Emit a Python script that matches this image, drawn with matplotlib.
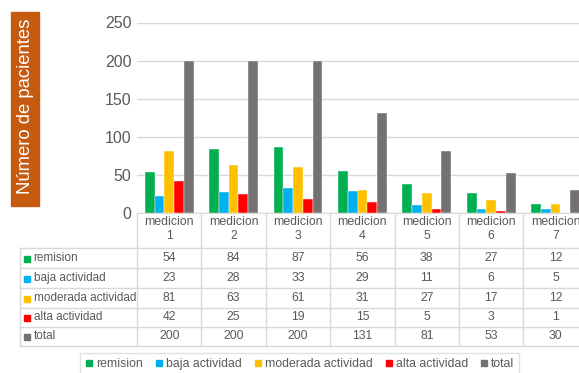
import numpy as np
import matplotlib.pyplot as plt
from matplotlib.patches import Rectangle
from matplotlib.lines import Line2D

categorias = [f"medicion\n{i}" for i in range(1, 8)]
series = ["remision", "baja actividad", "moderada actividad", "alta actividad", "total"]
remision = [54, 84, 87, 56, 38, 27, 12]
baja = [23, 28, 33, 29, 11, 6, 5]
moderada = [81, 63, 61, 31, 27, 17, 12]
alta = [42, 25, 19, 15, 5, 3, 1]
total = [200, 200, 200, 131, 81, 53, 30]
valores = [remision, baja, moderada, alta, total]
colores = ["#00B050", "#00B0F0", "#FFC000", "#FF0000", "#767171"]

plt.rcParams['font.family'] = ['Liberation Sans', 'DejaVu Sans']

W, H = 579, 373
def fx(px):
    return px / W
def fy(py):
    return 1 - py / H

fig = plt.figure(figsize=(W / 100, H / 100), dpi=100)

cat_w = 64.4  # px per category
x0 = 137
ax = fig.add_axes([fx(x0), fy(213.3), 7 * cat_w / W, (213.3 - 22.5) / H])

x = np.arange(len(categorias))
bw = 0.152
for i, (vals, c) in enumerate(zip(valores, colores)):
    ax.bar(x + (i - 2) * bw, vals, width=bw, color=c, edgecolor='white',
           linewidth=0.3, zorder=3)

ax.set_xlim(-0.5, 6.5)
ax.set_ylim(0, 250)
ax.set_yticks(range(0, 251, 50))
ax.set_xticks([])
ax.tick_params(axis='y', length=0, labelsize=11.5, labelcolor='#595959', pad=4)
ax.grid(axis='y', color='#D9D9D9', lw=1, zorder=0)
for s in ['top', 'right', 'left']:
    ax.spines[s].set_visible(False)
ax.spines['bottom'].set_color('#D9D9D9')

# data table under the chart
axt = fig.add_axes([fx(x0), fy(346), 7 * cat_w / W, (346 - 213.3) / H], sharex=ax)
axt.set_ylim(132.7, 0)
axt.axis('off')
filas = [0, 34.4, 54.4, 74.4, 94.4, 113.4, 132.7]
lab_left = -0.5 - (x0 - 20) / cat_w
lc = '#D9D9D9'
for k in range(8):
    axt.plot([-0.5 + k, -0.5 + k], [0, filas[-1]], color=lc, lw=1, clip_on=False)
axt.plot([lab_left, lab_left], [filas[1], filas[-1]], color=lc, lw=1, clip_on=False)
for yb in filas[1:]:
    axt.plot([lab_left, 6.5], [yb, yb], color=lc, lw=1, clip_on=False)

tc = '#595959'
for j, cat in enumerate(categorias):
    axt.text(j, 16, cat, ha='center', va='center', fontsize=8.8,
             color=tc, linespacing=1.2)

for i, (nombre, vals, c) in enumerate(zip(series, valores, colores)):
    yc = (filas[i + 1] + filas[i + 2]) / 2
    axt.plot([-0.5 - (x0 - 27.5) / cat_w], [yc + 0.8], 's', color=c, ms=4.6, clip_on=False)
    axt.text(-0.5 - (x0 - 33.5) / cat_w, yc, nombre, ha='left', va='center',
             fontsize=8.5, color=tc)
    for j, v in enumerate(vals):
        axt.text(j, yc, str(v), ha='center', va='center', fontsize=8.8, color=tc)

# y label box
fig.patches.append(Rectangle((fx(11), fy(206)), 28 / W, 194 / H,
                             transform=fig.transFigure, color='#C55A11'))
fig.text(fx(25.5), fy(106), "Número de pacientes", rotation=90, ha='center',
         va='center', color='white', fontsize=13.3)

handles = [Line2D([], [], marker='s', ls='', color=c, ms=5) for c in colores]
leg = fig.legend(handles, series, loc='upper center', bbox_to_anchor=(fx(299.5), fy(353)),
                 ncol=5, frameon=True, fancybox=False, edgecolor='#D9D9D9',
                 fontsize=8.8, handlelength=0.7, handletextpad=0.2,
                 columnspacing=1.0, borderpad=0.4, borderaxespad=0)
leg.get_frame().set_linewidth(1)
for t in leg.get_texts():
    t.set_color(tc)

fig.savefig('out.png', dpi=100)
